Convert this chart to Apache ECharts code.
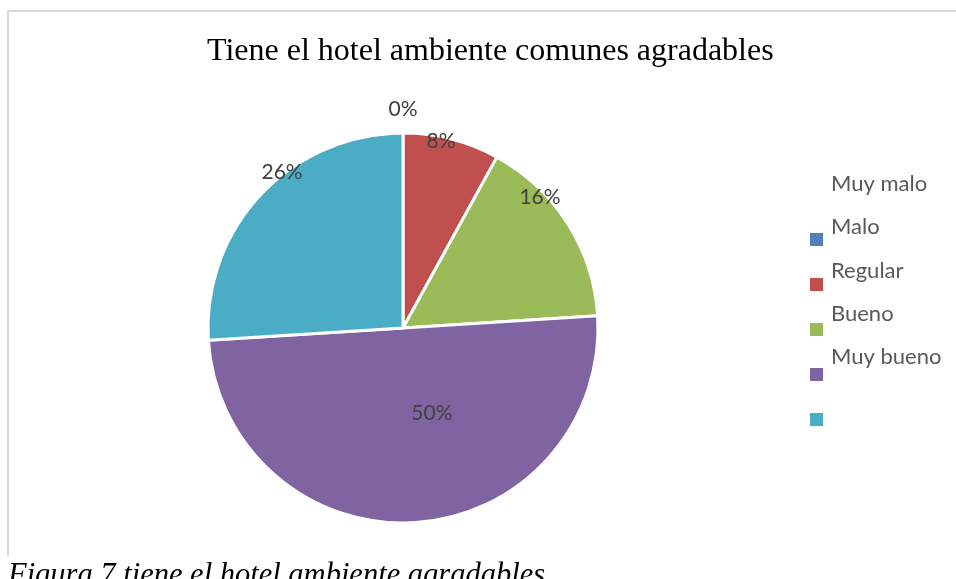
<!DOCTYPE html>
<html>
<head>
<meta charset="utf-8">
<title>Tiene el hotel ambiente comunes agradables</title>
<script src="https://cdn.jsdelivr.net/npm/echarts@6/dist/echarts.min.js"></script>
<style>
  html, body { margin: 0; padding: 0; background: #ffffff; }
  #chart { width: 956px; height: 579px; }
</style>
</head>
<body>
<div id="chart"></div>
<script>
// Survey answers and their share of responses (percent)
const categories = ['Muy malo', 'Malo', 'Regular', 'Bueno', 'Muy bueno'];
const shares = [0, 8, 16, 50, 26];
const sliceColors = ['#4F81BD', '#C0504D', '#9BBB59', '#8064A2', '#4BACC6'];

// Where each percentage label sits: [angle from 12 o'clock in degrees, fraction of radius]
const labelPolar = [[0, 1.12], [11.5, 0.98], [46.3, 0.972], [161.2, 0.46], [322.2, 1.012]];

const titleText = 'Tiene el hotel ambiente comunes agradables';
const captionText = 'Figura 7 tiene el hotel ambiente agradables';

const CX = 403, CY = 328, R = 195;

const chart = echarts.init(document.getElementById('chart'), null, { renderer: 'canvas' });

const pieData = categories.map((name, i) => ({
  name: name,
  value: shares[i],
  itemStyle: { color: sliceColors[i] }
}));

chart.setOption({
  animation: false,
  backgroundColor: '#ffffff',
  title: {
    text: titleText,
    left: 207,
    top: 36,
    padding: 0,
    textStyle: {
      fontFamily: '"Liberation Serif", "Times New Roman", serif',
      fontSize: 32,
      fontWeight: 'normal',
      color: '#000000'
    }
  },
  legend: [
    {
      // colour swatches
      orient: 'vertical',
      left: 810,
      top: 233,
      padding: 0,
      itemWidth: 13,
      itemHeight: 13,
      itemGap: 32,
      icon: 'rect',
      selectedMode: false,
      itemStyle: { borderWidth: 0 },
      formatter: () => '',
      textStyle: { fontSize: 1, lineHeight: 1 },
      data: categories
    },
    {
      // category names
      orient: 'vertical',
      left: 826,
      top: 172,
      padding: 0,
      itemWidth: 0,
      itemHeight: 24,
      itemGap: 19.25,
      icon: 'rect',
      selectedMode: false,
      itemStyle: { opacity: 0, borderWidth: 0 },
      textStyle: {
        fontFamily: 'Lato, "Open Sans", sans-serif',
        fontSize: 22,
        lineHeight: 24,
        color: '#595959'
      },
      data: categories
    }
  ],
  series: [
    {
      type: 'pie',
      center: [CX, CY],
      radius: R,
      startAngle: 90,
      clockwise: true,
      minShowLabelAngle: 0,
      avoidLabelOverlap: false,
      itemStyle: { borderColor: '#ffffff', borderWidth: 3 },
      emphasis: { disabled: true },
      label: {
        show: true,
        position: 'inside',
        formatter: p => p.value + '%',
        fontFamily: 'Lato, "Open Sans", sans-serif',
        fontSize: 21,
        color: '#404040'
      },
      labelLine: { show: false },
      labelLayout: params => {
        const lp = labelPolar[params.dataIndex];
        const a = lp[0] * Math.PI / 180;
        return {
          x: CX + lp[1] * R * Math.sin(a),
          y: CY - lp[1] * R * Math.cos(a),
          align: 'center',
          verticalAlign: 'middle'
        };
      },
      data: pieData
    }
  ],
  graphic: [
    {
      type: 'line',
      shape: { x1: 7, y1: 11, x2: 956, y2: 11 },
      style: { stroke: '#d9d9d9', lineWidth: 2 },
      silent: true
    },
    {
      type: 'line',
      shape: { x1: 8, y1: 10, x2: 8, y2: 556 },
      style: { stroke: '#d9d9d9', lineWidth: 2 },
      silent: true
    },
    {
      type: 'text',
      left: 8,
      top: 561,
      silent: true,
      style: {
        text: captionText,
        font: 'italic 30.5px "Liberation Serif", "Times New Roman", serif',
        fill: '#000000'
      }
    }
  ]
});
</script>
</body>
</html>
